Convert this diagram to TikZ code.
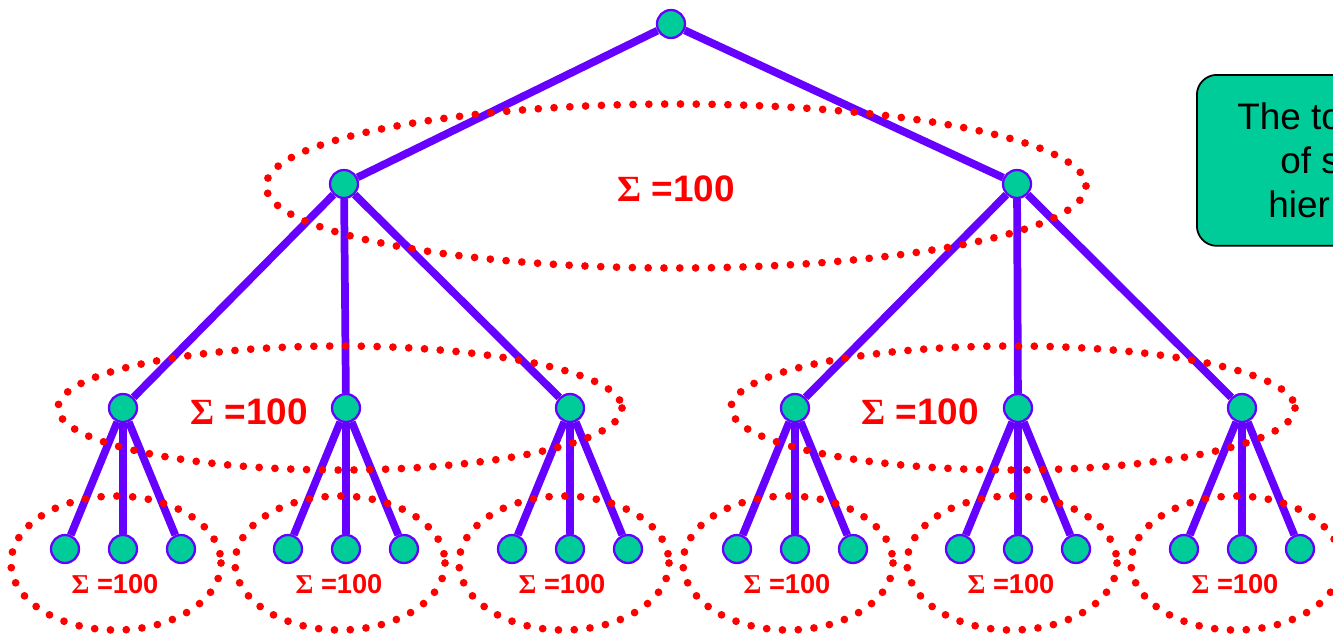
\documentclass[tikz,border=0pt]{standalone}
\usepackage{fontspec}
\setmainfont{Liberation Sans}
\newfontfamily\sigmafont{Liberation Serif}
\usetikzlibrary{positioning}
\definecolor{nodegreen}{HTML}{00CC99}
\definecolor{treeviolet}{HTML}{6600FF}
\definecolor{sumred}{HTML}{FF0000}

\begin{document}
\begin{tikzpicture}[
        x=0.02cm, y=-0.02cm,
        vertex/.style={circle, draw=treeviolet, fill=nodegreen, line width=1.3pt, minimum size=0.56cm, inner sep=0pt},
        branch/.style={draw=treeviolet, line width=4.4pt},
        group/.style={draw=sumred, line width=4.4pt, line cap=round, dash pattern=on 0pt off 9pt},
        sumbig/.style={text=sumred, inner sep=0pt, font=\bfseries\fontsize{21}{25}\selectfont},
        sumsmall/.style={text=sumred, inner sep=0pt, font=\bfseries\fontsize{15.5}{18}\selectfont},
        notebox/.style={rectangle, rounded corners=0.4cm, draw=black, line width=1pt, fill=nodegreen, minimum width=5.5cm, minimum height=3.42cm},
        noteline/.style={anchor=base west, inner sep=0pt, font=\fontsize{21}{25}\selectfont}
    ]
    \clip (0,0) rectangle (1333,633);

    % note on the right
    \node[notebox, anchor=north west] (note) at (1196,74) {};
    \node[noteline] (note1) at (1237,129) {The to};
    \node[noteline] (note2) at (1280,173) {of s};
    \node[noteline] (note3) at (1268,217) {hier};

    % tree
    \node[vertex] (root) at (671,24) {};
    \node[vertex] (a) at (344,184) {};
    \node[vertex] (b) at (1017,184) {};
    \node[vertex] (a1) at (123,408) {};
    \node[vertex] (a2) at (346,408) {};
    \node[vertex] (a3) at (570,408) {};
    \node[vertex] (b1) at (795,408) {};
    \node[vertex] (b2) at (1018,408) {};
    \node[vertex] (b3) at (1242,408) {};

    \draw[branch] (root) -- (a);
    \draw[branch] (root) -- (b);
    \foreach \p in {a,b}
        \foreach \i in {1,2,3}
            \draw[branch] (\p) -- (\p\i);

    % leaves
    \foreach \p/\x in {a1/123, a2/346, a3/570, b1/795, b2/1018, b3/1242} {
        \foreach \i/\d in {1/-58, 2/0, 3/58} {
            \node[vertex] (\p\i) at (\x+\d,549) {};
            \draw[branch] (\p) -- (\p\i);
        }
    }

    % groups
    \draw[group] (676,186) ellipse [x radius=410, y radius=82];
    \draw[group] (340,408) ellipse [x radius=282, y radius=62];
    \draw[group] (1013,408) ellipse [x radius=282, y radius=62];
    \foreach \x in {116, 340, 564, 788, 1012, 1236}
        \draw[group] (\x,563) ellipse [x radius=105, y radius=67];

    % sums
    \node[sumbig] (sumtop) at (676,189) {{\sigmafont Σ} =100};
    \node[sumbig] (suma) at (249,412) {{\sigmafont Σ} =100};
    \node[sumbig] (sumb) at (920,412) {{\sigmafont Σ} =100};
    \foreach \x [count=\k] in {115, 339, 562, 787, 1011, 1235}
        \node[sumsmall] (sum\k) at (\x,584) {{\sigmafont Σ} =100};
\end{tikzpicture}
\end{document}
